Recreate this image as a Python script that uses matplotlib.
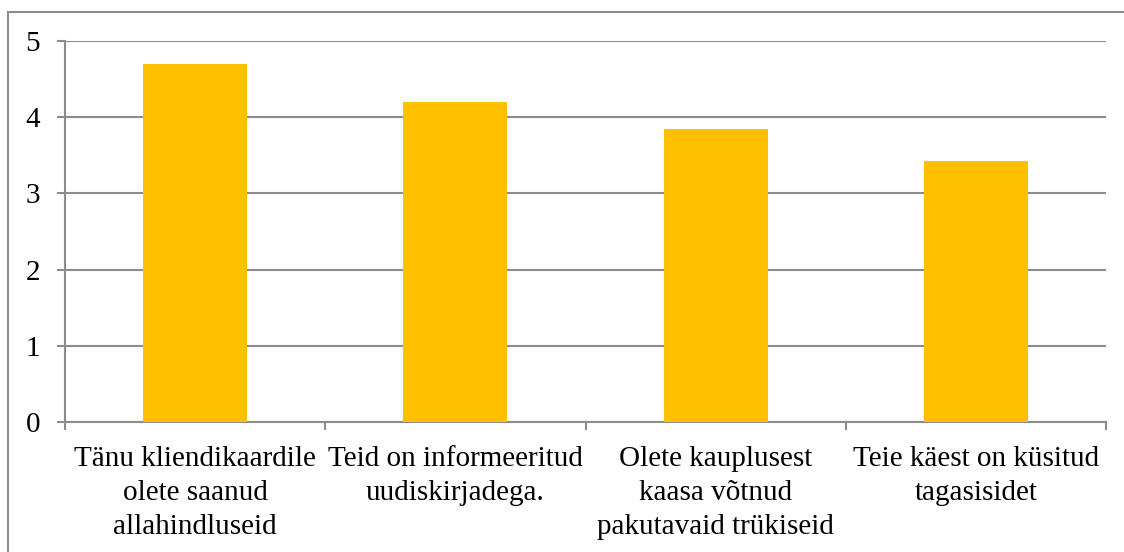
import numpy as np
import matplotlib
matplotlib.use("Agg")
from matplotlib import pyplot as plt
from matplotlib.lines import Line2D

categories = ["Tänu kliendikaardile\nolete saanud\nallahindluseid",
              "Teid on informeeritud\nuudiskirjadega.",
              "Olete kauplusest\nkaasa võtnud\npakutavaid trükiseid",
              "Teie käest on küsitud\ntagasisidet"]
values = [4.7, 4.2, 3.85, 3.43]
yticks = [0, 1, 2, 3, 4, 5]

plt.rcParams['font.family'] = ['Liberation Serif', 'DejaVu Serif']

fig = plt.figure(figsize=(11.24, 5.52), dpi=100)
ax = fig.add_axes([65 / 1124, 1 - 422 / 552, (1106 - 65) / 1124, (422 - 41) / 552])

x = np.arange(len(values))
ax.bar(x, values, width=0.4, color='#FFC000', zorder=3)

ax.set_xlim(-0.5, len(values) - 0.5)
ax.set_ylim(0, 5)
ax.set_yticks(yticks)
ax.set_yticklabels([str(t) for t in yticks], fontsize=21)
ax.yaxis.grid(True, color='#8c8c8c', linewidth=1.5, zorder=0)

# category labels between boundary ticks
ax.set_xticks(np.arange(-0.5, len(values)))
ax.set_xticklabels([])
ax.set_xticks(x, minor=True)
ax.set_xticklabels(categories, minor=True, fontsize=21, linespacing=1.4)
ax.tick_params(axis='x', which='minor', length=0, pad=17)
ax.tick_params(axis='x', which='major', length=6, width=1.5, color='#8c8c8c')
ax.tick_params(axis='y', length=6, width=1.5, color='#8c8c8c', pad=12)

for s in ['top', 'right']:
    ax.spines[s].set_visible(False)
for s in ['left', 'bottom']:
    ax.spines[s].set_color('#8c8c8c')
    ax.spines[s].set_linewidth(1.5)

# outer frame (clipped on right and bottom)
fig.add_artist(Line2D([8 / 1124, 1123 / 1124], [1 - 12 / 552] * 2, color='#8c8c8c', lw=1.5,
                      transform=fig.transFigure))
fig.add_artist(Line2D([8 / 1124] * 2, [0, 1 - 12 / 552], color='#8c8c8c', lw=1.5,
                      transform=fig.transFigure))

fig.savefig("out.png", dpi=100)
